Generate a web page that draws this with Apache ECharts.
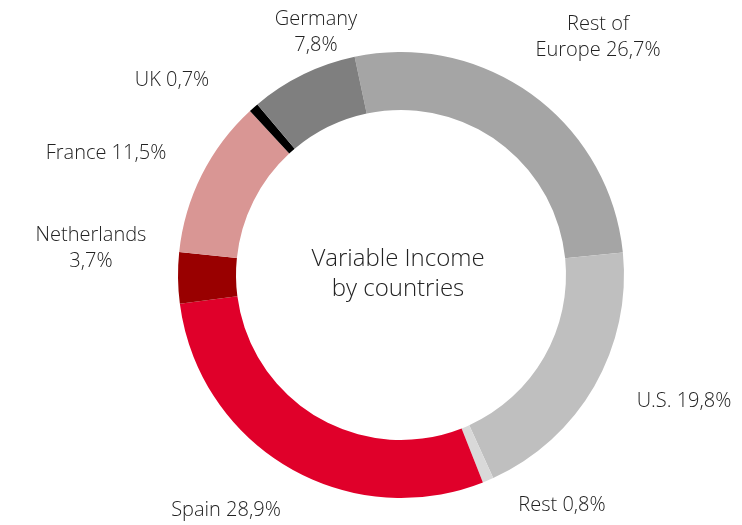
<!DOCTYPE html>
<html>
<head>
<meta charset="utf-8">
<script src="https://cdn.jsdelivr.net/npm/echarts@6/dist/echarts.min.js"></script>
<style>
  html, body { margin: 0; padding: 0; background: #fff; }
  #main { width: 742px; height: 525px; }
</style>
</head>
<body>
<div id="main"></div>
<script>
var countries = ['Rest of Europe', 'U.S.', 'Rest', 'Spain', 'Netherlands', 'France', 'UK', 'Germany'];
var shares = [26.7, 19.8, 0.8, 28.9, 3.7, 11.5, 0.7, 7.8];
// label text as printed (line breaks where the original wraps)
var labelText = ['Rest of\nEurope', 'U.S.', 'Rest', 'Spain', 'Netherlands\n', 'France', 'UK', 'Germany\n'];
var colors = ['#a5a5a5', '#bfbfbf', '#d9d9d9', '#e0002a', '#990000', '#d99694', '#000000', '#7f7f7f'];
var labelPos = [[598, 37], [684, 401], [562, 505], [226, 510], [91, 248], [106, 153], [172, 80], [316, 32]];

var chart = echarts.init(document.getElementById('main'));

var data = [];
for (var i = 0; i < countries.length; i++) {
    data.push({ name: countries[i], value: shares[i], itemStyle: { color: colors[i] } });
}

function fmt(v) {
    return v.toFixed(1).replace('.', ',') + '%';
}

option = {
    animation: false,
    graphic: [{
        type: 'text',
        x: 398,
        y: 274,
        style: {
            text: 'Variable Income\nby countries',
            fontFamily: 'Open Sans',
            fontWeight: 300,
            fontSize: 24,
            fill: '#222',
            align: 'center',
            verticalAlign: 'middle',
            lineHeight: 30
        }
    }],
    series: [{
        type: 'pie',
        center: [401, 275],
        radius: [165, 223],
        startAngle: 102,
        clockwise: true,
        avoidLabelOverlap: false,
        data: data,
        label: {
            show: true,
            position: 'outside',
            fontFamily: 'Open Sans',
            fontWeight: 300,
            fontSize: 20,
            color: '#222',
            lineHeight: 26,
            align: 'center',
            formatter: function (p) {
                var t = labelText[p.dataIndex];
                var sep = t.charAt(t.length - 1) === '\n' ? '' : ' ';
                return t + sep + fmt(p.value);
            }
        },
        labelLine: { show: false },
        labelLayout: function (p) {
            var pos = labelPos[p.dataIndex];
            return { x: pos[0], y: pos[1], align: 'center', verticalAlign: 'middle' };
        },
        emphasis: { disabled: true }
    }]
};
chart.setOption(option);
</script>
</body>
</html>
